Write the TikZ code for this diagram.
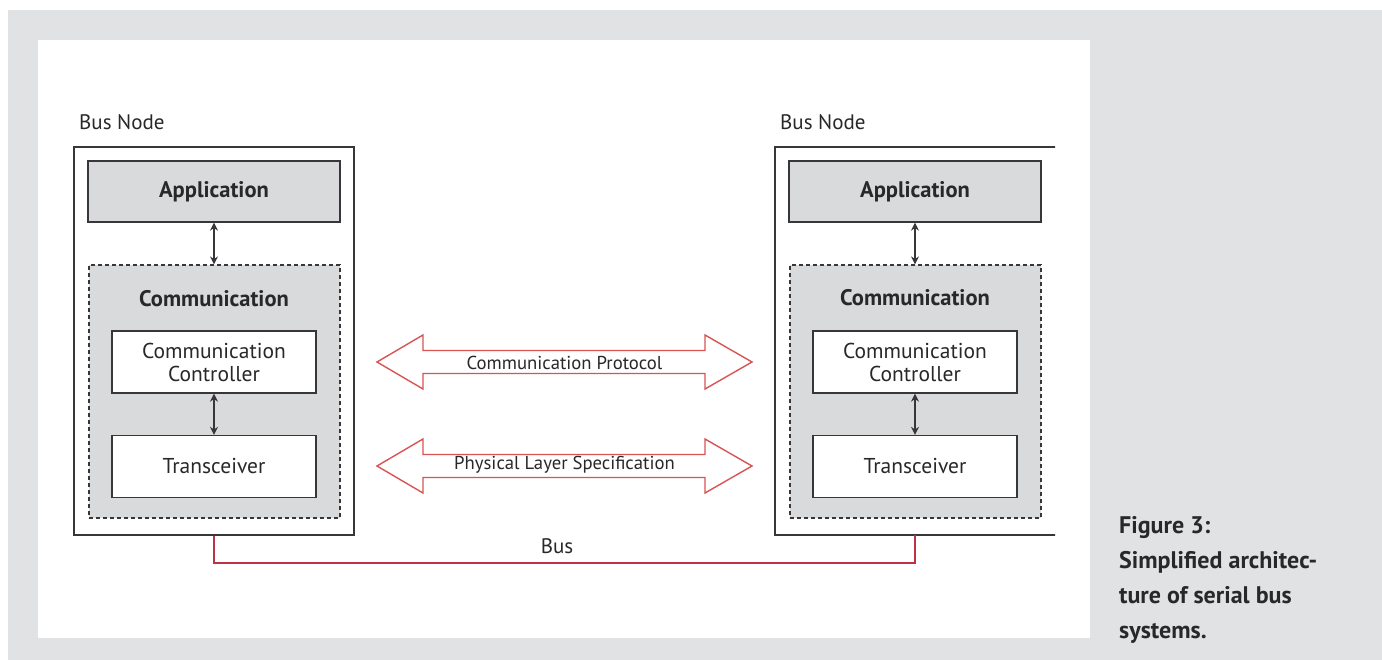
\documentclass[tikz,border=0pt]{standalone}
\usepackage{fontspec}
\setmainfont{PT Sans}
\usetikzlibrary{arrows.meta}
\definecolor{bggray}{RGB}{225,226,228}
\definecolor{boxgray}{RGB}{217,218,220}
\definecolor{linegray}{RGB}{55,55,58}
\definecolor{txt}{RGB}{40,40,42}
\definecolor{arrred}{RGB}{216,84,84}
\definecolor{busred}{RGB}{190,50,70}
\tikzset{
  outerbox/.style={draw=linegray, line width=1.3pt, fill=white, minimum width=280pt, minimum height=388pt, inner sep=0pt},
  appbox/.style={draw=linegray, line width=1.3pt, fill=boxgray, minimum width=252pt, minimum height=61pt, font=\fontsize{22.5}{26}\selectfont\bfseries, text=txt},
  commbox/.style={draw=linegray, line width=1.2pt, dashed, dash pattern=on 4pt off 3pt, fill=boxgray, minimum width=251pt, minimum height=253pt, inner sep=0pt},
  whitebox/.style={draw=linegray, line width=1.3pt, fill=white, minimum width=204pt, minimum height=62pt, align=center, font=\fontsize{21.5}{23}\selectfont, text=txt},
  lbl/.style={font=\fontsize{21}{24}\selectfont, text=txt, inner sep=0pt},
  blbl/.style={font=\fontsize{22.5}{26}\selectfont\bfseries, text=txt, inner sep=0pt},
  link/.style={draw=linegray, line width=1.5pt, {Stealth[length=8pt,width=8pt]}-{Stealth[length=8pt,width=8pt]}},
  darrow/.style={draw=arrred, line width=1.4pt, fill=white},
  arrlbl/.style={font=\fontsize{18.7}{22}\selectfont, text=txt, inner sep=0pt},
  bus/.style={draw=busred, line width=2.2pt}
}
\begin{document}
\begin{tikzpicture}[x=1pt,y=-1pt]
\useasboundingbox (0,0) rectangle (1382,660);
\fill[bggray] (8,10) rectangle (1382,660);
\fill[white] (38,40) rectangle (1090,638);

% Left bus node
\node[lbl, anchor=west] (lbn) at (79,122) {Bus Node};
\node[outerbox] (L) at (214,341) {};
\node[appbox] (La) at (214,191.5) {Application};
\node[commbox] (Lc) at (214.5,391.5) {};
\node[blbl] (Lct) at (214,299) {Communication};
\node[whitebox] (Lcc) at (214,362) {Communication\\Controller};
\node[whitebox] (Ltr) at (214,466.5) {Transceiver};
\draw[link] (La.south) -- (Lc.north -| La.south);
\draw[link] (Lcc.south) -- (Ltr.north);

% Right bus node (right border clipped)
\node[lbl, anchor=west] (rbn) at (780,122) {Bus Node};
\begin{scope}
\clip (700,140) rectangle (1055,545);
\node[outerbox, draw=none] (R) at (915,341) {};
\draw[linegray, line width=1.3pt] (1060,147) -- (775,147) -- (775,535) -- (1060,535);
\end{scope}
\node[appbox] (Ra) at (915,191.5) {Application};
\node[commbox] (Rc) at (915.5,391.5) {};
\node[blbl] (Rct) at (915,298) {Communication};
\node[whitebox] (Rcc) at (915,362) {Communication\\Controller};
\node[whitebox] (Rtr) at (915,466.5) {Transceiver};
\draw[link] (Ra.south) -- (Rc.north -| Ra.south);
\draw[link] (Rcc.south) -- (Rtr.north);

% Double arrows
\draw[darrow] (377,362) -- (423,335) -- (423,350.5) -- (705,350.5) -- (705,335) -- (752,362)
  -- (705,389) -- (705,373.5) -- (423,373.5) -- (423,389) -- cycle;
\node[arrlbl] (cp) at (564.5,363) {Communication Protocol};
\draw[darrow] (377,466) -- (423,439) -- (423,454.5) -- (705,454.5) -- (705,439) -- (752,466)
  -- (705,493) -- (705,477.5) -- (423,477.5) -- (423,493) -- cycle;
\node[arrlbl] (pl) at (564.5,465) {Physical Layer Specification};

% Bus
\draw[bus] (L.south) -- (214,563) -| (915,535);
\node[lbl] (busl) at (557,546) {Bus};

% Caption
\node[anchor=north west, align=left, inner sep=0pt, text=txt,
  font=\fontsize{24}{35}\selectfont\bfseries] (cap) at (1119,516)
  {Figure 3:\\Simplified architec-\\ture of serial bus\\systems.};
\end{tikzpicture}
\end{document}
